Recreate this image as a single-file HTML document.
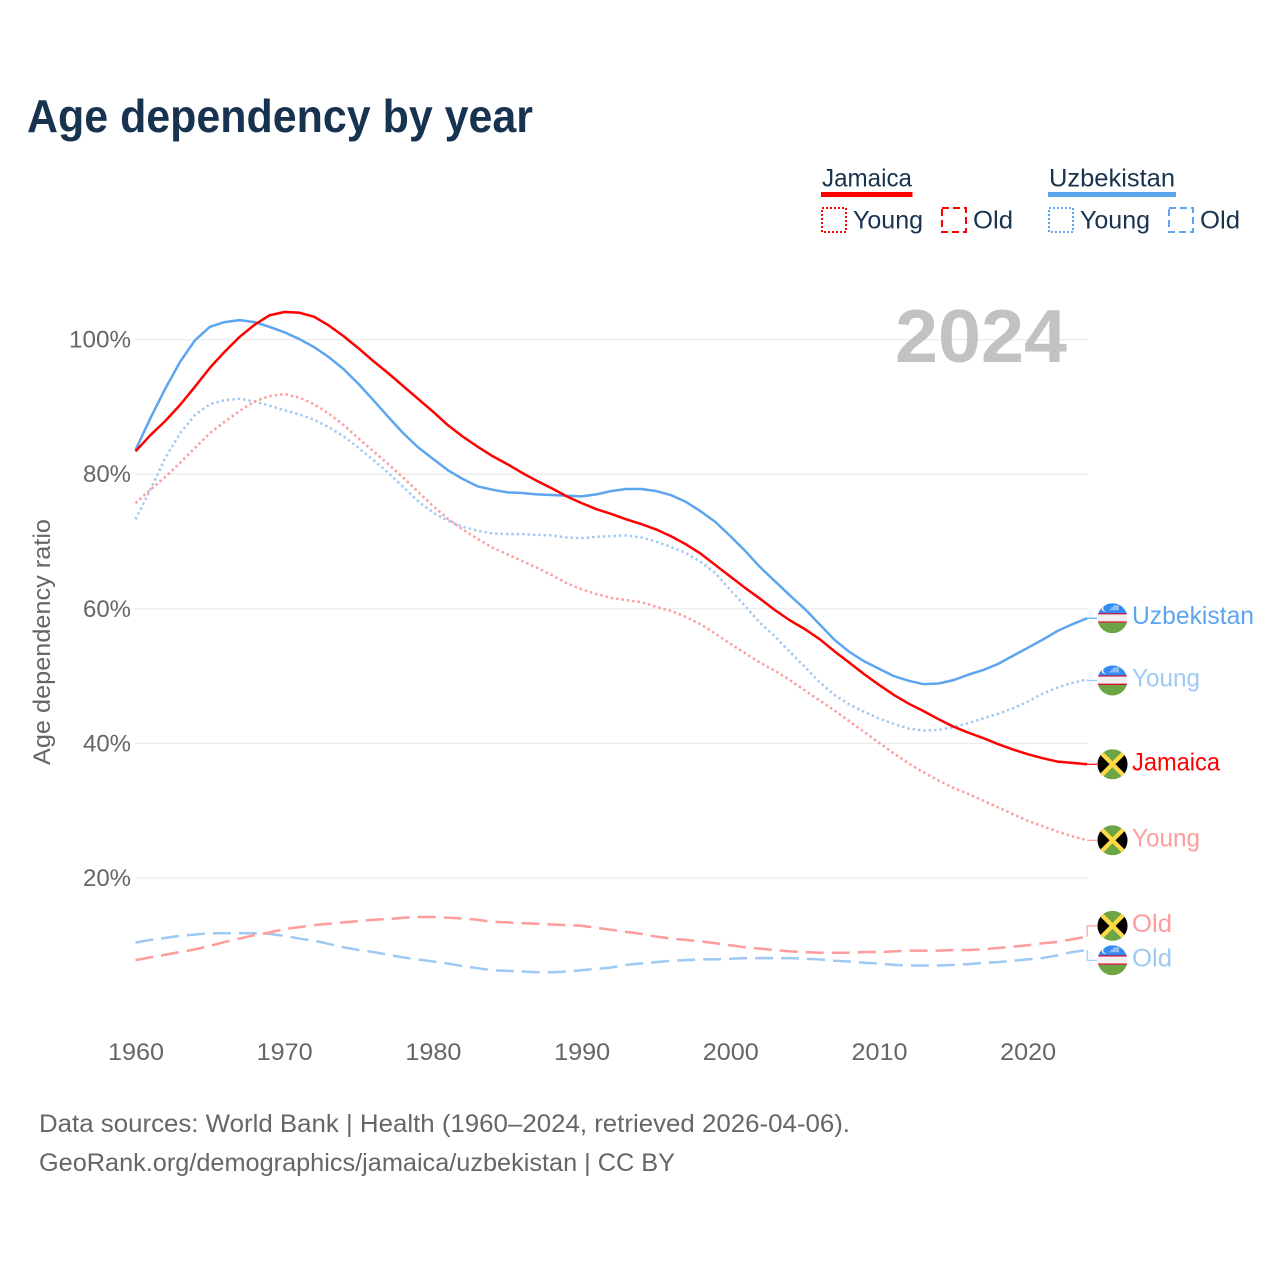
<!DOCTYPE html>
<html lang="en">
<head>
<meta charset="utf-8">
<title>Age dependency by year</title>
<style>
html,body{margin:0;padding:0;background:#fff;}
svg{display:block;}
text{font-family:"Liberation Sans",sans-serif;}
</style>
</head>
<body>
<svg id="chart" xmlns="http://www.w3.org/2000/svg" width="1280" height="1280" viewBox="0 0 1280 1280">
  <rect x="0" y="0" width="1280" height="1280" fill="#ffffff"/>
  <text x="27" y="132" font-size="46" font-weight="700" fill="#17334f" textLength="506" lengthAdjust="spacingAndGlyphs">Age dependency by year</text>

  <g>
    <text x="822" y="186.5" font-size="25" fill="#17334f" textLength="90" lengthAdjust="spacingAndGlyphs">Jamaica</text>
    <rect x="821" y="192" width="91.5" height="5" fill="#ff0000"/>
    <rect x="822" y="208" width="24" height="24" fill="none" stroke="#ff0000" stroke-width="2" stroke-dasharray="2 2"/>
    <text x="853" y="228.5" font-size="25" fill="#17334f" textLength="70" lengthAdjust="spacingAndGlyphs">Young</text>
    <rect x="942" y="208" width="24" height="24" fill="none" stroke="#ff0000" stroke-width="2" stroke-dasharray="7 4"/>
    <text x="973" y="228.5" font-size="25" fill="#17334f" textLength="40" lengthAdjust="spacingAndGlyphs">Old</text>

    <text x="1049" y="186.5" font-size="25" fill="#17334f" textLength="126" lengthAdjust="spacingAndGlyphs">Uzbekistan</text>
    <rect x="1048" y="192" width="128" height="5" fill="#5da5ee"/>
    <rect x="1049" y="208" width="24" height="24" fill="none" stroke="#5da5ee" stroke-width="2" stroke-dasharray="2 2"/>
    <text x="1080" y="228.5" font-size="25" fill="#17334f" textLength="70" lengthAdjust="spacingAndGlyphs">Young</text>
    <rect x="1169" y="208" width="24" height="24" fill="none" stroke="#5da5ee" stroke-width="2" stroke-dasharray="7 4"/>
    <text x="1200" y="228.5" font-size="25" fill="#17334f" textLength="40" lengthAdjust="spacingAndGlyphs">Old</text>
  </g>

  <text transform="translate(50,642) rotate(-90)" text-anchor="middle" font-size="24" fill="#666666" textLength="246" lengthAdjust="spacingAndGlyphs">Age dependency ratio</text>
  <g id="grid"></g>
  <g id="y-ticks"></g>
  <g id="x-ticks"></g>
  <text x="895" y="362" font-size="75" font-weight="700" fill="#c2c2c2" textLength="172" lengthAdjust="spacingAndGlyphs">2024</text>
  <g id="series"></g>
  <g id="end-labels"></g>

  <text x="39" y="1132" font-size="25" fill="#666666" textLength="811" lengthAdjust="spacingAndGlyphs">Data sources: World Bank | Health (1960–2024, retrieved 2026-04-06).</text>
  <text x="39" y="1171" font-size="25" fill="#666666" textLength="636" lengthAdjust="spacingAndGlyphs">GeoRank.org/demographics/jamaica/uzbekistan | CC BY</text>
</svg>

<script>
const firstYear = 1960;
const xTickLabels = [1960, 1970, 1980, 1990, 2000, 2010, 2020];
const yTickLabels = [20, 40, 60, 80, 100];

const uzbekistanTotal = [83.6,88.3,92.7,96.7,99.9,101.9,102.6,102.9,102.6,101.9,101.1,100.1,98.9,97.4,95.6,93.4,91.0,88.5,86.1,84.0,82.3,80.6,79.3,78.2,77.7,77.3,77.2,77.0,76.9,76.8,76.7,77.0,77.5,77.8,77.8,77.5,76.9,75.9,74.5,72.9,70.8,68.6,66.2,64.1,62.0,60.0,57.7,55.4,53.6,52.2,51.1,50.0,49.3,48.8,48.9,49.4,50.2,50.9,51.8,53.0,54.2,55.4,56.7,57.7,58.6];
const uzbekistanYoung = [73.3,77.7,82.4,86.1,88.8,90.4,91.0,91.2,90.8,90.2,89.5,88.9,88.1,87.0,85.6,83.9,82.1,80.2,78.1,76.0,74.3,73.1,72.2,71.6,71.2,71.1,71.1,71.0,70.9,70.6,70.5,70.7,70.8,70.9,70.6,70.0,69.2,68.3,67.0,65.3,62.8,60.4,57.9,55.9,53.6,51.4,49.1,47.2,45.8,44.7,43.7,42.9,42.2,41.9,42.0,42.4,43.0,43.7,44.4,45.2,46.2,47.4,48.3,49.0,49.5];
const uzbekistanOld = [10.4,10.8,11.1,11.4,11.6,11.8,11.8,11.8,11.8,11.7,11.4,11.0,10.7,10.2,9.7,9.3,9.0,8.6,8.2,7.9,7.6,7.3,6.9,6.6,6.3,6.2,6.1,6.0,6.0,6.1,6.3,6.5,6.7,7.1,7.3,7.5,7.7,7.8,7.9,7.9,8.0,8.1,8.1,8.1,8.1,8.0,7.9,7.7,7.6,7.4,7.3,7.1,7.0,7.0,7.0,7.1,7.2,7.4,7.5,7.7,7.9,8.1,8.5,9.0,9.3];
const jamaicaTotal = [83.4,85.8,87.9,90.3,93.0,95.8,98.2,100.4,102.2,103.6,104.1,104.0,103.4,102.1,100.5,98.7,96.8,95.0,93.1,91.2,89.3,87.3,85.6,84.1,82.7,81.5,80.2,79.0,77.9,76.7,75.7,74.8,74.1,73.3,72.6,71.8,70.8,69.6,68.2,66.5,64.8,63.1,61.5,59.8,58.3,57.0,55.5,53.7,52.0,50.3,48.7,47.2,45.9,44.8,43.6,42.5,41.6,40.8,39.9,39.1,38.4,37.8,37.3,37.1,36.9];
const jamaicaYoung = [75.7,77.7,79.6,81.7,83.9,86.1,87.8,89.4,90.8,91.6,91.9,91.4,90.4,89.0,87.3,85.3,83.4,81.5,79.5,77.4,75.3,73.4,71.8,70.4,69.1,68.1,67.1,66.1,65.0,63.8,62.9,62.2,61.6,61.3,61.0,60.3,59.7,58.8,57.7,56.3,54.8,53.4,52.0,50.8,49.4,47.9,46.4,44.9,43.3,41.7,40.1,38.5,37.0,35.7,34.5,33.4,32.5,31.5,30.5,29.5,28.5,27.7,26.9,26.2,25.6];
const jamaicaOld = [7.8,8.2,8.6,9.0,9.4,9.9,10.5,11.0,11.5,11.9,12.4,12.7,13.0,13.2,13.4,13.6,13.8,13.9,14.1,14.2,14.2,14.1,14.0,13.8,13.5,13.4,13.3,13.2,13.1,13.0,12.9,12.6,12.3,12.0,11.7,11.3,11.0,10.8,10.6,10.3,10.0,9.7,9.5,9.3,9.1,9.0,8.9,8.9,8.9,9.0,9.0,9.1,9.2,9.2,9.2,9.3,9.3,9.4,9.6,9.8,10.0,10.3,10.5,10.9,11.3];

const NS = 'http://www.w3.org/2000/svg';
function xScale(year) { return 135.5 + (year - firstYear) * 14.87; }
function yScale(value) { return 1012.6 - value * 6.73; }
function make(tag, attrs, parent) {
  const el = document.createElementNS(NS, tag);
  for (const key in attrs) el.setAttribute(key, attrs[key]);
  parent.appendChild(el);
  return el;
}

const gridGroup = document.getElementById('grid');
const yTickGroup = document.getElementById('y-ticks');
yTickLabels.forEach(function (value) {
  const line = make('line', {x1: 135, x2: 1087.5, y1: yScale(value), y2: yScale(value), stroke: '#ececec', 'stroke-width': 1.3}, gridGroup);
  
  
  const label = make('text', {x: 131, y: yScale(value) + 8, 'text-anchor': 'end', 'font-size': 24, fill: '#666666', textLength: value === 100 ? 62 : 48, lengthAdjust: 'spacingAndGlyphs'}, yTickGroup);
  
  
  label.textContent = value + '%';
});

const xTickGroup = document.getElementById('x-ticks');
xTickLabels.forEach(function (year) {
  const label = make('text', {x: xScale(year) + 0.5, y: 1060, 'text-anchor': 'middle', 'font-size': 24, fill: '#666666', textLength: 56, lengthAdjust: 'spacingAndGlyphs'}, xTickGroup);
  
  
  label.textContent = String(year);
});

const seriesDefs = [
  {key: 'uzbekistan-old', values: uzbekistanOld, color: '#9fc9f3', dash: '18 8', flag: 'uz', label: 'Old', nudge: 10.3, len: 40},
  {key: 'jamaica-old', values: jamaicaOld, color: '#ff9c9c', dash: '18 8', flag: 'jm', label: 'Old', nudge: -10.7, len: 40},
  {key: 'uzbekistan-young', values: uzbekistanYoung, color: '#9fc9f3', dash: '2.4 3', flag: 'uz', label: 'Young', nudge: 1, len: 68},
  {key: 'jamaica-young', values: jamaicaYoung, color: '#ff9c9c', dash: '2.4 3', flag: 'jm', label: 'Young', nudge: 0, len: 68},
  {key: 'uzbekistan-total', values: uzbekistanTotal, color: '#5da5ee', dash: '', flag: 'uz', label: 'Uzbekistan', nudge: 0, len: 122},
  {key: 'jamaica-total', values: jamaicaTotal, color: '#ff0000', dash: '', flag: 'jm', label: 'Jamaica', nudge: 0, len: 88}
];

const seriesGroup = document.getElementById('series');
const labelGroup = document.getElementById('end-labels');

function drawFlag(kind, cy, id, parent) {
  const g = make('g', {transform: 'translate(1112.5,' + cy + ')'}, parent);
  
  
  const clip = make('clipPath', {id: 'clip-' + id}, g);
  make('circle', {cx: 0, cy: 0, r: 15}, clip);
  const inner = make('g', {'clip-path': 'url(#clip-' + id + ')'}, g);
  if (kind === 'uz') {
    make('rect', {x: -15, y: -15, width: 30, height: 10.2, fill: '#338af3'}, inner);
    make('rect', {x: -15, y: -5, width: 30, height: 1.2, fill: '#d80027'}, inner);
    make('rect', {x: -15, y: -3.8, width: 30, height: 7, fill: '#f0f0f0'}, inner);
    make('rect', {x: -15, y: 3.2, width: 30, height: 1.3, fill: '#d80027'}, inner);
    make('rect', {x: -15, y: 4.5, width: 30, height: 10.5, fill: '#6da544'}, inner);
    make('circle', {cx: -7.5, cy: -10, r: 3.4, fill: '#f0f0f0'}, inner);
    make('circle', {cx: -6.2, cy: -10, r: 3, fill: '#338af3'}, inner);
    make('rect', {x: -3, y: -9, width: 1, height: 1, fill: '#f0f0f0'}, inner);
    make('rect', {x: -1, y: -11, width: 1, height: 3, fill: '#f0f0f0'}, inner);
    make('rect', {x: 1, y: -13, width: 1, height: 5, fill: '#f0f0f0'}, inner);
    make('rect', {x: 3, y: -13, width: 1, height: 5, fill: '#f0f0f0'}, inner);
    make('rect', {x: 5, y: -13, width: 1, height: 5, fill: '#f0f0f0'}, inner);
  } else {
    make('rect', {x: -15, y: -15, width: 30, height: 30, fill: '#6da544'}, inner);
    make('polygon', {points: '-15,-15 0,0 -15,15', fill: '#000000'}, inner);
    make('polygon', {points: '15,-15 0,0 15,15', fill: '#000000'}, inner);
    make('line', {x1: -13, y1: -13, x2: 13, y2: 13, stroke: '#ffda44', 'stroke-width': 4.2}, inner);
    make('line', {x1: 13, y1: -13, x2: -13, y2: 13, stroke: '#ffda44', 'stroke-width': 4.2}, inner);
  }
}

seriesDefs.forEach(function (s) {
  const pts = s.values.map(function (v, i) { return xScale(firstYear + i).toFixed(2) + ',' + yScale(v).toFixed(2); });
  const attrs = {d: 'M' + pts.join('L'), fill: 'none', stroke: s.color, 'stroke-width': 2.5, 'stroke-linejoin': 'round'};
  if (s.dash) attrs['stroke-dasharray'] = s.dash;
  const path = make('path', attrs, seriesGroup);
  
  

  const endX = xScale(firstYear + s.values.length - 1);
  const endY = yScale(s.values[s.values.length - 1]);
  const labelY = endY + s.nudge;
  const stub = make('path', {d: 'M' + endX + ',' + endY + 'L' + endX + ',' + labelY + 'L1097,' + labelY, fill: 'none', stroke: s.color, 'stroke-width': 1.2}, labelGroup);
  
  

  drawFlag(s.flag, labelY, s.key, labelGroup);

  const text = make('text', {x: 1132, y: labelY + 6, 'font-size': 25, fill: s.color, textLength: s.len, lengthAdjust: 'spacingAndGlyphs'}, labelGroup);
  
  
  text.textContent = s.label;
});
</script>
</body>
</html>
